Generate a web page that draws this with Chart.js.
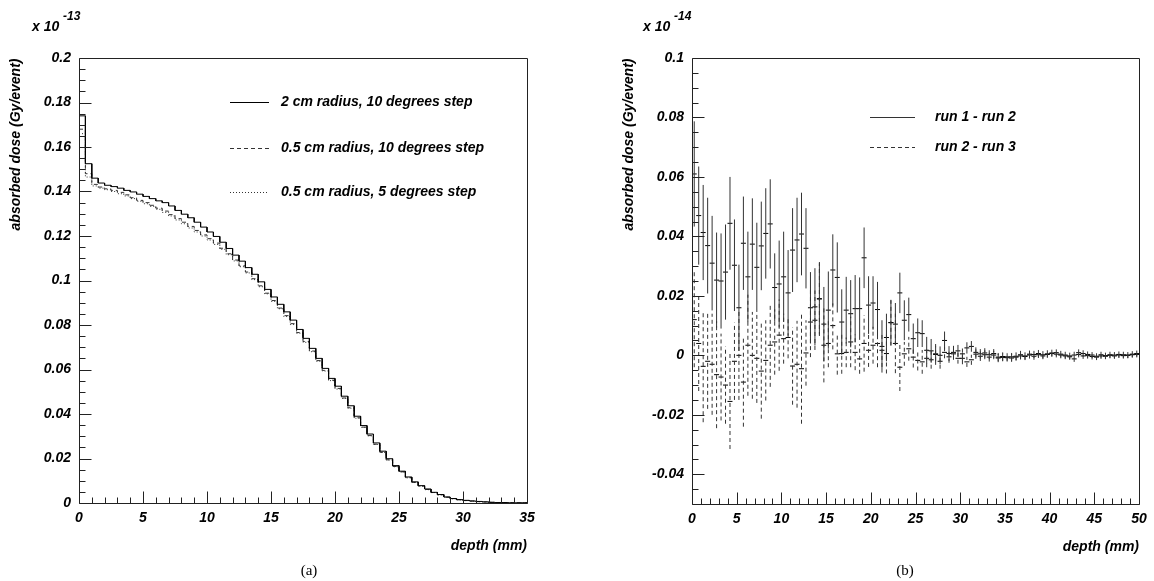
<!DOCTYPE html>
<html>
<head>
<meta charset="utf-8">
<script src="https://cdn.jsdelivr.net/npm/chart.js@4.4.0/dist/chart.umd.min.js"></script>
<style>
  html, body { margin: 0; padding: 0; background: #fff; }
  #wrap { position: relative; width: 1154px; height: 581px; }
  .box { position: absolute; top: 0; width: 577px; height: 581px; }
</style>
</head>
<body>
<div id="wrap">
  <div class="box" style="left:0"><canvas id="chartA"></canvas></div>
  <div class="box" style="left:577px"><canvas id="chartB"></canvas></div>
</div>
<script>
// Panel (a): dose histograms, 0.5 mm bins, units of 1e-13 Gy/event
const binWidthA = 0.5;
const dose2cm10deg = [
  0.174, 0.1525, 0.146, 0.1438, 0.1428, 0.1422, 0.1415, 0.1405, 0.1398, 0.1388,
  0.1378, 0.1368, 0.1358, 0.135, 0.1335, 0.1315, 0.1298, 0.1282, 0.1262, 0.124,
  0.1218, 0.1198, 0.1172, 0.1144, 0.1114, 0.1087, 0.1058, 0.1028, 0.0994, 0.096,
  0.0926, 0.0893, 0.0859, 0.0822, 0.078, 0.074, 0.0695, 0.065, 0.0605, 0.056,
  0.0525, 0.048, 0.0437, 0.039, 0.0348, 0.031, 0.027, 0.0233, 0.0199, 0.0168,
  0.0143, 0.0117, 0.0095, 0.0078, 0.0063, 0.0048, 0.0038, 0.0027, 0.002, 0.0015,
  0.0012, 0.0009, 0.0007, 0.0005, 0.0003, 0.0002, 0.0002, 0.0001, 0.0001, 0.0001
];
const dose05cm10deg = [
  0.168, 0.148, 0.1432, 0.142, 0.1412, 0.1405, 0.1396, 0.1385, 0.1372, 0.136,
  0.135, 0.1338, 0.1325, 0.1312, 0.1296, 0.1278, 0.1262, 0.1243, 0.1225, 0.1205,
  0.1188, 0.1168, 0.1145, 0.112, 0.1092, 0.1066, 0.1038, 0.1008, 0.0976, 0.0943,
  0.091, 0.0876, 0.0842, 0.0806, 0.0766, 0.0726, 0.0683, 0.064, 0.0596, 0.0552,
  0.0515, 0.0472, 0.0428, 0.0383, 0.0341, 0.0303, 0.0264, 0.0228, 0.0194, 0.0164,
  0.014, 0.0114, 0.0093, 0.0076, 0.0061, 0.0047, 0.0037, 0.0026, 0.002, 0.0015,
  0.0011, 0.0009, 0.0006, 0.0005, 0.0003, 0.0002, 0.0002, 0.0001, 0.0001, 0.0001
];
const dose05cm5deg = [
  0.166, 0.1465, 0.1425, 0.1415, 0.1408, 0.14, 0.139, 0.138, 0.1368, 0.1356,
  0.1345, 0.1333, 0.132, 0.1306, 0.129, 0.1272, 0.1255, 0.1236, 0.1218, 0.12,
  0.1182, 0.1162, 0.114, 0.1116, 0.1088, 0.1062, 0.1034, 0.1004, 0.0972, 0.094,
  0.0906, 0.0873, 0.0838, 0.0802, 0.0763, 0.0722, 0.068, 0.0637, 0.0593, 0.055,
  0.0512, 0.047, 0.0426, 0.0381, 0.034, 0.0302, 0.0263, 0.0227, 0.0193, 0.0163,
  0.0139, 0.0113, 0.0092, 0.0075, 0.006, 0.0047, 0.0036, 0.0026, 0.0019, 0.0014,
  0.0011, 0.0008, 0.0006, 0.0004, 0.0003, 0.0002, 0.0002, 0.0001, 0.0001, 0.0001
];
const depthTicksA = [0, 5, 10, 15, 20, 25, 30, 35];
const doseTicksA = [0, 0.02, 0.04, 0.06, 0.08, 0.1, 0.12, 0.14, 0.16, 0.18, 0.2];

// Panel (b): run differences with errors, 0.5 mm bins, units of 1e-14 Gy/event
const binWidthB = 0.5;
const diff12 = [
  0.061, 0.047, 0.0413, 0.0369, 0.031, 0.0253, 0.025, 0.028, 0.0444, 0.0303,
  0.016, 0.0377, 0.0264, 0.0374, 0.0296, 0.0368, 0.041, 0.0442, 0.0228, 0.024,
  0.0264, 0.021, 0.0354, 0.0388, 0.0408, 0.036, 0.016, 0.0163, 0.019, 0.0105,
  0.0152, 0.0287, 0.0262, 0.0112, 0.0152, 0.014, 0.0157, 0.0157, 0.0328, 0.0169,
  0.0176, 0.0154, 0.003, 0.006, 0.011, 0.0105, 0.021, 0.0118, 0.0137, 0.0056,
  0.0076, 0.0073, 0.0017, 0.0015, 0.0003, 0.0, 0.005, 0.0006, 0.001, 0.0015,
  -0.001, 0.0025, 0.003, 0.001, 0.0005, 0.0008, 0.0002, 0.0006, -0.0006, -0.0004,
  -0.0008, -0.0005, -0.0003, 0.0002, -0.0002, 0.0004, 0.0003, 0.0006, 0.0002, 0.0005,
  0.0008, 0.0009, 0.0004, 0.0001, -0.0002, 0.0001, 0.0009, 0.0006, 0.0003, 0.0001,
  -0.0003, 0.0002, -0.0001, 0.0002, 0.0001, 0.0003, 0.0002, 0.0001, 0.0004, 0.0006
];
const err12 = [
  0.0177, 0.0165, 0.016, 0.0161, 0.0159, 0.016, 0.016, 0.016, 0.0156, 0.0154,
  0.0145, 0.0157, 0.0152, 0.0154, 0.015, 0.0149, 0.0152, 0.015, 0.0115, 0.0146,
  0.0152, 0.0144, 0.0141, 0.0142, 0.0139, 0.0135, 0.012, 0.013, 0.012, 0.0125,
  0.013, 0.012, 0.0118, 0.011, 0.0112, 0.0113, 0.0113, 0.0105, 0.0102, 0.0097,
  0.009, 0.0093, 0.0088, 0.008, 0.0075, 0.0071, 0.0068, 0.0067, 0.0057, 0.0051,
  0.0048, 0.0045, 0.0045, 0.004, 0.0035, 0.003, 0.003, 0.0025, 0.0022, 0.002,
  0.002, 0.0019, 0.0018, 0.0017, 0.0016, 0.0016, 0.0015, 0.0015, 0.0014, 0.0014,
  0.0013, 0.0013, 0.0013, 0.0013, 0.0012, 0.0012, 0.0012, 0.0012, 0.0012, 0.0012,
  0.0011, 0.0011, 0.0011, 0.0011, 0.0011, 0.0011, 0.0011, 0.0011, 0.001, 0.001,
  0.001, 0.001, 0.001, 0.001, 0.001, 0.001, 0.001, 0.001, 0.001, 0.001
];
const diff23 = [
  0.012, 0.004, -0.0037, -0.002, -0.003, -0.0065, -0.0073, -0.01, -0.0155, -0.002,
  0.0, -0.009, 0.0034, 0.0, -0.001, -0.0053, -0.0017, 0.0034, 0.0045, 0.0068,
  0.0056, 0.006, -0.0036, -0.003, -0.0045, 0.0008, 0.0112, 0.0118, 0.019, 0.0034,
  0.004, 0.01, 0.0005, 0.0006, 0.001, 0.0045, 0.001, -0.0012, 0.004, 0.0017,
  0.0034, 0.004, 0.0017, 0.0006, 0.011, 0.004, -0.004, 0.0005, 0.0022, -0.0006,
  -0.0017, -0.0022, -0.001, -0.0015, 0.0005, -0.002, 0.001, -0.0005, 0.0005, -0.001,
  0.0005, -0.0022, -0.0015, 0.0004, -0.0003, 0.0002, -0.0006, 0.0001, -0.0009, -0.0007,
  -0.0005, -0.0009, -0.0006, -0.0002, -0.0004, 0.0001, -0.0003, 0.0002, -0.0002, 0.0003,
  0.0006, 0.0004, 0.0001, -0.0002, -0.0005, -0.0012, 0.0003, -0.0002, -0.0001, -0.0004,
  -0.0006, -0.0002, -0.0003, 0.0, -0.0002, 0.0001, -0.0001, 0.0, 0.0002, 0.0003
];
const err23 = [
  0.016, 0.016, 0.0188, 0.016, 0.017, 0.018, 0.0146, 0.013, 0.016, 0.013,
  0.015, 0.015, 0.017, 0.0146, 0.015, 0.016, 0.0135, 0.014, 0.011, 0.012,
  0.0084, 0.007, 0.013, 0.0146, 0.0185, 0.011, 0.0118, 0.01, 0.0125, 0.0125,
  0.008, 0.008, 0.007, 0.0068, 0.005, 0.0085, 0.006, 0.005, 0.0095, 0.0056,
  0.0062, 0.008, 0.0056, 0.0067, 0.0078, 0.01, 0.008, 0.004, 0.004, 0.0035,
  0.0034, 0.004, 0.003, 0.003, 0.0025, 0.0025, 0.002, 0.002, 0.002, 0.0018,
  0.0018, 0.0017, 0.0017, 0.0016, 0.0016, 0.0015, 0.0015, 0.0014, 0.0014, 0.0013,
  0.0013, 0.0013, 0.0012, 0.0012, 0.0012, 0.0012, 0.0012, 0.0011, 0.0011, 0.0011,
  0.0011, 0.0011, 0.0011, 0.0011, 0.001, 0.001, 0.001, 0.001, 0.001, 0.001,
  0.001, 0.001, 0.001, 0.001, 0.001, 0.001, 0.001, 0.001, 0.001, 0.001
];
const depthTicksB = [0, 5, 10, 15, 20, 25, 30, 35, 40, 45, 50];
const doseTicksB = [-0.04, -0.02, 0, 0.02, 0.04, 0.06, 0.08, 0.1];

Chart.defaults.font.family = '"Liberation Sans", Arial, sans-serif';
Chart.defaults.color = '#000';

const TICK_FONT = { size: 14, style: 'italic', weight: 'bold' };
const LABEL_FONT = 'italic bold 14px "Liberation Sans", Arial, sans-serif';

// histogram outline: two points per bin so the steps come out flat
function histPoints(values, width) {
  const pts = [];
  values.forEach((v, i) => {
    pts.push({ x: i * width, y: v });
    pts.push({ x: (i + 1) * width, y: v });
  });
  return pts;
}

// vertical error bars as broken line segments
function errorSegments(values, errs, width) {
  const pts = [];
  values.forEach((v, i) => {
    const c = (i + 0.5) * width;
    pts.push({ x: c, y: v - errs[i] }, { x: c, y: v + errs[i] }, { x: c, y: null });
  });
  return pts;
}

function centers(values, width) {
  return values.map((v, i) => ({ x: (i + 0.5) * width, y: v }));
}

function fmt(v) {
  return String(parseFloat(v.toFixed(3)));
}

// ROOT-like frame: inward ticks, box, legend, exponent and y title
function rootFrame(cfg) {
  return {
    id: 'rootFrame',
    afterDatasetsDraw(chart) {
      const { ctx, chartArea: a, scales: { x, y } } = chart;
      ctx.save();
      ctx.strokeStyle = '#222';
      ctx.lineWidth = 1;
      ctx.setLineDash([]);
      ctx.beginPath();
      const L = Math.round(a.left) + 0.5, R = Math.round(a.right) + 0.5;
      const T = Math.round(a.top) + 0.5, B = Math.round(a.bottom) + 0.5;
      ctx.moveTo(L, T); ctx.lineTo(R, T); ctx.lineTo(R, B); ctx.lineTo(L, B); ctx.closePath();

      const majX = x.ticks.map(t => t.value);
      const nx = Math.round((x.max - x.min) / cfg.minorX);
      for (let i = 0; i <= nx; i++) {
        const v = x.min + i * cfg.minorX;
        const len = majX.some(m => Math.abs(m - v) < 1e-9) ? 12 : 6;
        const px = Math.round(x.getPixelForValue(v)) + 0.5;
        ctx.moveTo(px, B); ctx.lineTo(px, B - len);
      }
      const majY = y.ticks.map(t => t.value);
      const ny = Math.round((y.max - y.min) / cfg.minorY);
      for (let i = 0; i <= ny; i++) {
        const v = y.min + i * cfg.minorY;
        const len = majY.some(m => Math.abs(m - v) < 1e-9) ? 12 : 6;
        const py = Math.round(y.getPixelForValue(v)) + 0.5;
        ctx.moveTo(L, py); ctx.lineTo(L + len, py);
      }
      ctx.stroke();

      // legend
      ctx.font = LABEL_FONT;
      ctx.textBaseline = 'middle';
      ctx.textAlign = 'left';
      ctx.fillStyle = '#000';
      cfg.legend.forEach(item => {
        const ds = chart.data.datasets[item.ds];
        ctx.beginPath();
        ctx.strokeStyle = ds.borderColor;
        ctx.setLineDash(ds.borderDash || []);
        ctx.moveTo(cfg.legendX0, item.y + 0.5);
        ctx.lineTo(cfg.legendX1, item.y + 0.5);
        ctx.stroke();
        ctx.fillText(ds.label, cfg.legendTextX, item.y);
      });
      ctx.setLineDash([]);

      // exponent
      ctx.font = 'italic bold 14px "Liberation Sans", Arial, sans-serif';
      ctx.fillText('x 10', cfg.expX, 27);
      ctx.font = 'italic bold 12px "Liberation Sans", Arial, sans-serif';
      ctx.fillText(cfg.expText, cfg.expX + 31, 17);

      // y title, ending at the top of the axis
      ctx.save();
      ctx.font = LABEL_FONT;
      ctx.translate(cfg.yTitleX, T);
      ctx.rotate(-Math.PI / 2);
      ctx.textAlign = 'right';
      ctx.fillText('absorbed dose (Gy/event)', 0, 0);
      ctx.restore();

      // panel caption
      ctx.font = '15px "Liberation Serif", "Times New Roman", serif';
      ctx.textAlign = 'center';
      ctx.fillText(cfg.caption, cfg.captionX, 571);
      ctx.restore();
    }
  };
}

function axes(xMin, xMax, xTicks, yMin, yMax, yTicks) {
  return {
    x: {
      type: 'linear', min: xMin, max: xMax,
      afterBuildTicks: s => { s.ticks = xTicks.map(v => ({ value: v })); },
      afterFit: s => { s.height = 52; },
      grid: { display: false, drawTicks: false },
      border: { display: false },
      ticks: { font: TICK_FONT, padding: 7, autoSkip: false, maxRotation: 0, callback: fmt },
      title: { display: true, text: 'depth (mm)', align: 'end', font: TICK_FONT, padding: 0 }
    },
    y: {
      type: 'linear', min: yMin, max: yMax,
      afterBuildTicks: s => { s.ticks = yTicks.map(v => ({ value: v })); },
      afterFit: s => { s.width = 70; },
      grid: { display: false, drawTicks: false },
      border: { display: false },
      ticks: { font: TICK_FONT, padding: 8, autoSkip: false, callback: fmt }
    }
  };
}

new Chart(document.getElementById('chartA'), {
  type: 'line',
  data: {
    datasets: [
      { label: '2 cm radius, 10 degrees step', data: histPoints(dose2cm10deg, binWidthA),
        borderColor: '#000', borderWidth: 1, pointRadius: 0, tension: 0 },
      { label: '0.5 cm radius, 10 degrees step', data: histPoints(dose05cm10deg, binWidthA),
        borderColor: '#333', borderWidth: 1, borderDash: [4, 3], pointRadius: 0, tension: 0 },
      { label: '0.5 cm radius, 5 degrees step', data: histPoints(dose05cm5deg, binWidthA),
        borderColor: '#333', borderWidth: 1, borderDash: [1, 2], pointRadius: 0, tension: 0 }
    ]
  },
  options: {
    responsive: true, maintainAspectRatio: false, animation: false,
    layout: { padding: { left: 9, top: 58, right: 50, bottom: 26 } },
    plugins: { legend: { display: false }, tooltip: { enabled: false } },
    scales: axes(0, 35, depthTicksA, 0, 0.2, doseTicksA)
  },
  plugins: [rootFrame({
    minorX: 1, minorY: 0.005,
    legend: [{ ds: 0, y: 102 }, { ds: 1, y: 148 }, { ds: 2, y: 192 }],
    legendX0: 230, legendX1: 269, legendTextX: 281,
    expX: 32, expText: '-13', yTitleX: 16,
    caption: '(a)', captionX: 309
  })]
});

new Chart(document.getElementById('chartB'), {
  type: 'line',
  data: {
    datasets: [
      { label: 'run 1 - run 2', data: errorSegments(diff12, err12, binWidthB),
        borderColor: '#333', borderWidth: 1, pointRadius: 0, spanGaps: false, tension: 0 },
      { label: 'run 2 - run 3', data: errorSegments(diff23, err23, binWidthB),
        borderColor: '#333', borderWidth: 1, borderDash: [4, 3], pointRadius: 0, spanGaps: false, tension: 0 },
      { label: 'run 1 - run 2 values', data: centers(diff12, binWidthB), showLine: false,
        pointStyle: 'line', pointRadius: 2.5, borderColor: '#000', borderWidth: 1 },
      { label: 'run 2 - run 3 values', data: centers(diff23, binWidthB), showLine: false,
        pointStyle: 'line', pointRadius: 2.5, borderColor: '#000', borderWidth: 1 }
    ]
  },
  options: {
    responsive: true, maintainAspectRatio: false, animation: false,
    layout: { padding: { left: 45, top: 58, right: 15, bottom: 25 } },
    plugins: { legend: { display: false }, tooltip: { enabled: false } },
    scales: axes(0, 50, depthTicksB, -0.05, 0.1, doseTicksB)
  },
  plugins: [rootFrame({
    minorX: 1, minorY: 0.005,
    legend: [{ ds: 0, y: 117 }, { ds: 1, y: 147 }],
    legendX0: 293, legendX1: 338, legendTextX: 358,
    expX: 66, expText: '-14', yTitleX: 52,
    caption: '(b)', captionX: 328
  })]
});
</script>
</body>
</html>
